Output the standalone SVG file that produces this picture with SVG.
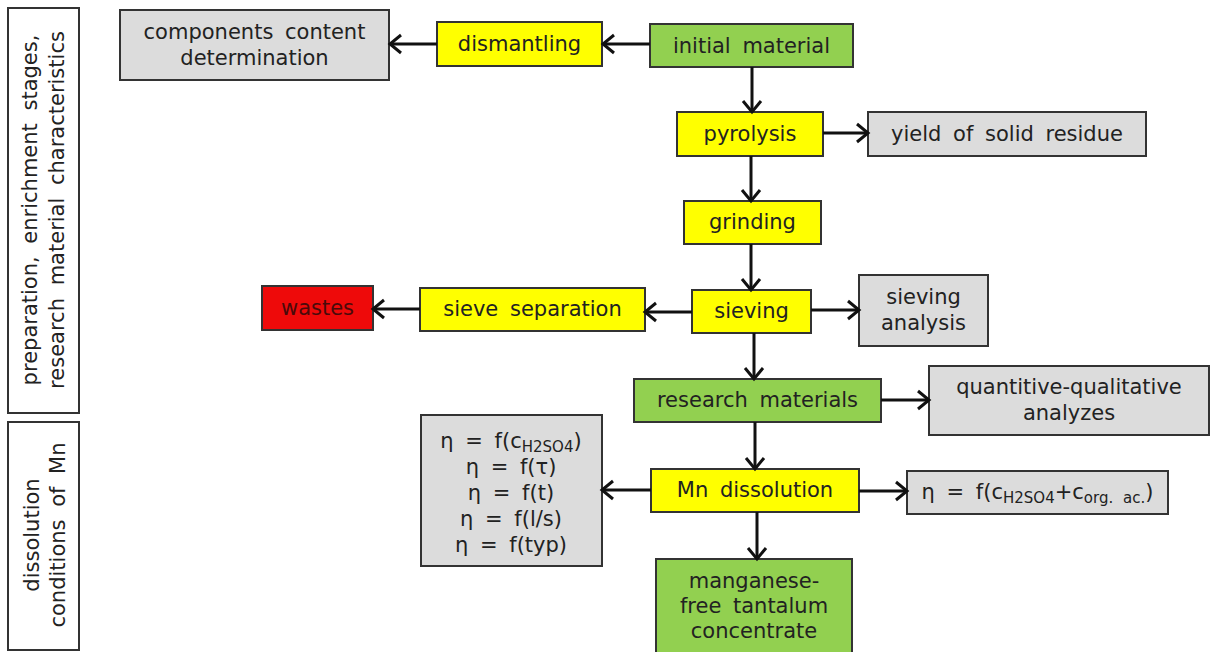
<svg xmlns="http://www.w3.org/2000/svg" width="1210" height="652" viewBox="0 0 1210 652">
<style>
text{font-family:"DejaVu Sans","Liberation Sans",sans-serif;font-size:21px;fill:#222;text-anchor:middle;word-spacing:5px}
.y{fill:#ffff00;stroke:#333;stroke-width:2}
.g{fill:#92d050;stroke:#333;stroke-width:2}
.gr{fill:#dcdcdc;stroke:#333;stroke-width:2}
.r{fill:#ee0a0a;stroke:#333;stroke-width:2}
.lab{fill:#fff;stroke:#333;stroke-width:2}
.c line{stroke:#111;stroke-width:3;marker-end:url(#a)}
.sub{font-size:15px}
</style>
<defs>
<marker id="a" markerUnits="userSpaceOnUse" markerWidth="18" markerHeight="22" refX="14" refY="11" orient="auto">
<path d="M3,2 L14,11 L3,20" fill="none" stroke="#111" stroke-width="3"/>
</marker>
</defs>
<rect width="1210" height="652" fill="#fff"/>

<g id="label1">
<rect class="lab" x="8" y="8" width="71" height="405"/>
<text transform="translate(37,210) rotate(-90)" style="word-spacing:6px">preparation, enrichment stages,</text>
<text transform="translate(64,210) rotate(-90)" style="word-spacing:6px">research material characteristics</text>
</g>
<g id="label2">
<rect class="lab" x="8" y="422" width="71" height="228"/>
<text transform="translate(39,535) rotate(-90)">dissolution</text>
<text transform="translate(65,535) rotate(-90)" style="word-spacing:6px">conditions of Mn</text>
</g>

<g id="components">
<rect class="gr" x="120" y="10" width="269" height="70"/>
<text x="254.5" y="39">components content</text>
<text x="254.5" y="65">determination</text>
</g>
<g id="dismantling">
<rect class="y" x="437" y="22" width="165" height="44"/>
<text x="519.5" y="51">dismantling</text>
</g>
<g id="initial">
<rect class="g" x="650" y="24" width="203" height="43"/>
<text x="751.5" y="53">initial material</text>
</g>
<g id="pyrolysis">
<rect class="y" x="677" y="112" width="146" height="44"/>
<text x="750" y="141">pyrolysis</text>
</g>
<g id="yield">
<rect class="gr" x="868" y="112" width="278" height="44"/>
<text x="1007" y="141">yield of solid residue</text>
</g>
<g id="grinding">
<rect class="y" x="684" y="201" width="137" height="43"/>
<text x="752.5" y="229">grinding</text>
</g>
<g id="sieving">
<rect class="y" x="692" y="290" width="119" height="43"/>
<text x="751.5" y="318">sieving</text>
</g>
<g id="sieve-separation">
<rect class="y" x="420" y="288" width="225" height="43"/>
<text x="532.5" y="316">sieve separation</text>
</g>
<g id="wastes">
<rect class="r" x="262" y="286" width="111" height="44"/>
<text x="317.5" y="315" style="fill:#4a0a0a">wastes</text>
</g>
<g id="sieving-analysis">
<rect class="gr" x="859" y="275" width="129" height="71"/>
<text x="923.5" y="304">sieving</text>
<text x="923.5" y="330">analysis</text>
</g>
<g id="research">
<rect class="g" x="634" y="379" width="247" height="43"/>
<text x="757.5" y="407">research materials</text>
</g>
<g id="quant">
<rect class="gr" x="929" y="366" width="280" height="69"/>
<text x="1069" y="394">quantitive-qualitative</text>
<text x="1069" y="420">analyzes</text>
</g>
<g id="eta-list">
<rect class="gr" x="421" y="415" width="181" height="151"/>
<text x="511" y="448">η = f(c<tspan class="sub" dy="4">H2SO4</tspan><tspan dy="-4">)</tspan></text>
<text x="511" y="474">η = f(τ)</text>
<text x="511" y="500">η = f(t)</text>
<text x="511" y="526">η = f(l/s)</text>
<text x="511" y="552">η = f(typ)</text>
</g>
<g id="mn-dissolution">
<rect class="y" x="651" y="469" width="208" height="43"/>
<text x="755" y="497">Mn dissolution</text>
</g>
<g id="eta-acid">
<rect class="gr" x="907" y="471" width="261" height="43"/>
<text x="1037.5" y="499">η = f(c<tspan class="sub" dy="4">H2SO4</tspan><tspan dy="-4">+c</tspan><tspan class="sub" dy="4">org. ac.</tspan><tspan dy="-4">)</tspan></text>
</g>
<g id="concentrate">
<rect class="g" x="656" y="559" width="196" height="100"/>
<text x="754" y="588">manganese-</text>
<text x="754" y="613">free tantalum</text>
<text x="754" y="638">concentrate</text>
</g>

<g id="connectors" class="c">
<line x1="650" y1="44" x2="603" y2="44"/>
<line x1="437" y1="44" x2="390" y2="44"/>
<line x1="752" y1="67" x2="752" y2="112"/>
<line x1="823" y1="133" x2="868" y2="133"/>
<line x1="751" y1="156" x2="751" y2="201"/>
<line x1="751" y1="244" x2="751" y2="290"/>
<line x1="692" y1="312" x2="645" y2="312"/>
<line x1="420" y1="309" x2="373" y2="309"/>
<line x1="811" y1="310" x2="859" y2="310"/>
<line x1="754" y1="333" x2="754" y2="379"/>
<line x1="881" y1="400" x2="929" y2="400"/>
<line x1="755" y1="422" x2="755" y2="469"/>
<line x1="651" y1="490" x2="602" y2="490"/>
<line x1="859" y1="491" x2="907" y2="491"/>
<line x1="757" y1="512" x2="757" y2="559"/>
</g>
</svg>
